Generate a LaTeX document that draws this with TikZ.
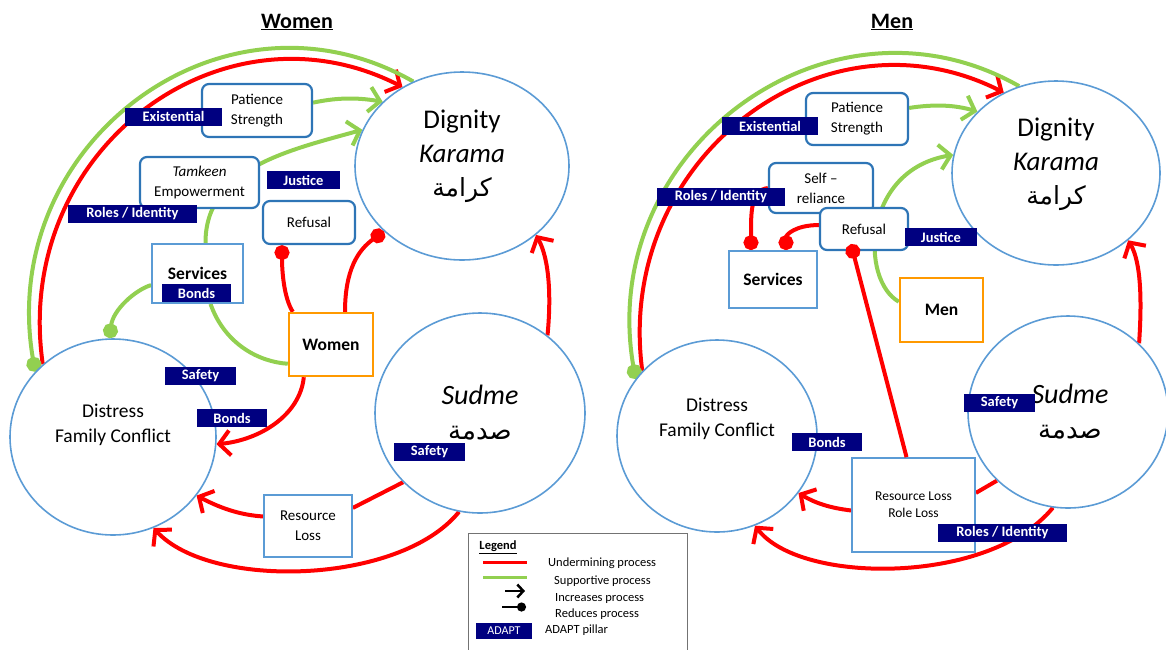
\documentclass[tikz,border=0pt]{standalone}
\usepackage{fontspec}
\setmainfont{Carlito}
\newfontfamily\arabicfont[Script=Arabic]{DejaVu Sans}
\TeXXeTstate=1
\usepackage{tikz}
\usetikzlibrary{shapes.geometric,arrows.meta,backgrounds}
\usepackage{xcolor}
\definecolor{undred}{RGB}{255,0,0}
\definecolor{supgreen}{RGB}{146,208,80}
\definecolor{ringblue}{RGB}{91,155,213}
\definecolor{boxblue}{RGB}{46,117,182}
\definecolor{adaptblue}{RGB}{0,0,128}
\definecolor{actorange}{RGB}{255,153,0}

\begin{document}
\begin{tikzpicture}[x=1pt, y=-1pt,
  bigring/.style={ellipse, draw=ringblue, line width=1.6pt, fill=white, inner sep=0pt},
  ringtext/.style={align=center, inner sep=0pt},
  roundbox/.style={rectangle, rounded corners=7pt, draw=boxblue, line width=2.2pt, fill=white,
    align=center, inner sep=0pt, font=\fontsize{15}{20}\selectfont},
  squarebox/.style={rectangle, draw=ringblue, line width=1.8pt, fill=white, align=center, inner sep=0pt},
  actorbox/.style={rectangle, draw=actorange, line width=2.4pt, fill=white, inner sep=0pt,
    font=\bfseries\fontsize{17.5}{20}\selectfont},
  pillar/.style={fill=adaptblue, text=white, inner sep=0pt, minimum height=18pt,
    font=\bfseries\fontsize{14.5}{16}\selectfont},
  legtext/.style={anchor=west, inner sep=0pt, font=\fontsize{12.5}{14}\selectfont},
  undermine/.style={draw=undred, line width=4pt},
  support/.style={draw=supgreen, line width=4pt},
  stopdot/.style={-{Circle[length=15pt]}},
  >={Straight Barb[length=11pt,width=25pt]}]
  \useasboundingbox (0,0) rectangle (1166,649);

  \node[font=\bfseries\fontsize{22}{26}\selectfont] (wtitle) at (297,22) {\underline{Women}};
  \node[font=\bfseries\fontsize{22}{26}\selectfont] (mtitle) at (892,22) {\underline{Men}};

  \node[bigring, minimum width=214pt, minimum height=188pt] (wdig) at (462,166) {};
  \node[bigring, minimum width=210pt, minimum height=200pt] (wsud) at (480,413) {};
  \node[bigring, minimum width=206pt, minimum height=196pt] (wdis) at (113,437) {};
  \node[ringtext, font=\fontsize{27}{34}\selectfont] (wdigt) at ([yshift=10pt]wdig.center)
    {Dignity\\\textit{Karama}\\{\arabicfont\fontsize{25}{30}\selectfont\beginR كرامة\endR}};
  \node[ringtext, font=\fontsize{28}{35}\selectfont] (wsudt) at (wsud.center)
    {\textit{Sudme}\\{\arabicfont\fontsize{26}{30}\selectfont\beginR صدمة\endR}};
  \node[ringtext, font=\fontsize{19.5}{25}\selectfont] (wdist) at ([yshift=12pt]wdis.center)
    {Distress\\Family Conflict};

  \node[roundbox, minimum width=110pt, minimum height=53pt] (wpat) at (257,110.5) {Patience\\Strength};
  \node[roundbox, minimum width=119pt, minimum height=51pt] (wtam) at (199.5,182.5) {\textit{Tamkeen}\\Empowerment};
  \node[roundbox, minimum width=92pt, minimum height=43pt] (wref) at (309,222.5) {Refusal};
  \node[squarebox, minimum width=91pt, minimum height=59pt,
    font=\bfseries\fontsize{17.5}{20}\selectfont] (wserv) at (197.5,273.5) {Services};
  \node[actorbox, minimum width=84pt, minimum height=63pt] (wwomen) at (331,344.5) {Women};
  \node[squarebox, minimum width=88pt, minimum height=62pt,
    font=\fontsize{15}{20}\selectfont] (wres) at (308,526) {Resource\\Loss};

  \node[pillar, minimum width=97pt] (wexist) at (173.5,116.5) {Existential};
  \node[pillar, minimum width=129pt] (wroles) at (132.5,214) {Roles / Identity};
  \node[pillar, minimum width=73pt] (wjust) at (303.5,180) {Justice};
  \node[pillar, minimum width=69pt] (wbondsv) at (196.5,293) {Bonds};
  \node[pillar, minimum width=71pt] (wsafed) at (200.5,376) {Safety};
  \node[pillar, minimum width=70pt] (wbondsd) at (232,418) {Bonds};
  \node[pillar, minimum width=71pt] (wsafes) at (429.5,452) {Safety};

  \node[bigring, minimum width=208pt, minimum height=184pt] (mdig) at (1056,173) {};
  \node[bigring, minimum width=200pt, minimum height=192pt] (msud) at (1068,412) {};
  \node[bigring, minimum width=200pt, minimum height=192pt] (mdis) at (717,436) {};
  \node[ringtext, font=\fontsize{27}{34}\selectfont] (mdigt) at ([yshift=9pt]mdig.center)
    {Dignity\\\textit{Karama}\\{\arabicfont\fontsize{25}{30}\selectfont\beginR كرامة\endR}};
  \node[ringtext, font=\fontsize{28}{35}\selectfont] (msudt) at ([xshift=2pt]msud.center)
    {\textit{Sudme}\\{\arabicfont\fontsize{26}{30}\selectfont\beginR صدمة\endR}};
  \node[ringtext, font=\fontsize{19.5}{25}\selectfont] (mdist) at ([yshift=17pt]mdis.center)
    {Distress\\Family Conflict};

  \node[roundbox, minimum width=102pt, minimum height=52pt] (mpat) at (857,119) {Patience\\Strength};
  \node[roundbox, minimum width=104pt, minimum height=50pt] (mself) at (821,188) {Self –\\reliance};
  \node[roundbox, minimum width=88pt, minimum height=42pt] (mref) at (864,229) {Refusal};
  \node[squarebox, minimum width=88pt, minimum height=57pt,
    font=\bfseries\fontsize{17.5}{20}\selectfont] (mserv) at (773,279.5) {Services};
  \node[actorbox, minimum width=83pt, minimum height=64pt] (mmen) at (941.5,310) {Men};
  \node[squarebox, minimum width=123pt, minimum height=94pt,
    font=\fontsize{13.5}{17}\selectfont] (mres) at (913.5,505) {Resource Loss\\Role Loss};

  \node[pillar, minimum width=96pt] (mexist) at (770,126) {Existential};
  \node[pillar, minimum width=128pt] (mroles) at (721,196.5) {Roles / Identity};
  \node[pillar, minimum width=72pt] (mjust) at (941,237) {Justice};
  \node[pillar, minimum width=70pt] (mbonds) at (827,442) {Bonds};
  \node[pillar, minimum width=71pt] (msafe) at (999.5,403) {Safety};
  \node[pillar, minimum width=129pt] (mrolesr) at (1002.5,532.5) {Roles / Identity};

  \begin{scope}[on background layer]
    \draw[undermine, ->] (wdis.134) .. controls (12,150) and (222,-5) .. (wdig.127);
    \draw[support, stopdot] (wdig.120) .. controls (224,-27) and (-4,143) .. (wdis.140);
    \draw[support, ->] (wpat.8) .. controls (335,98) and (355,97) .. (wdig.141);
    \draw[support, ->] ([xshift=8pt]wserv.north) .. controls (205,168) and (290,150) .. (wdig.160);
    \draw[support, stopdot] (wserv.194) .. controls (135,290) and (113,310) .. (wdis.92);
    \draw[support] ([xshift=13pt]wserv.south) .. controls (225,345) and (260,362) .. (wwomen.204);
    \draw[undermine, stopdot] ([xshift=5pt]wwomen.north west) .. controls (284,298) and (282,272) .. ([xshift=-27pt]wref.south);
    \draw[undermine, stopdot] ([xshift=14pt]wwomen.north) .. controls (345,270) and (358,250) .. (wdig.220);
    \draw[undermine, ->] ([xshift=16pt]wwomen.south west) .. controls (300,415) and (260,440) .. (wdis.-4);
    \draw[undermine] (wsud.222) -- (wres.22);
    \draw[undermine, ->] (wres.168) .. controls (240,515) and (220,508) .. (wdis.-35);
    \draw[undermine, ->] (wsud.258) .. controls (400,585) and (210,590) .. (wdis.-66);
    \draw[undermine, ->] (wsud.49) .. controls (551,300) and (550,260) .. (wdig.-43);

    \draw[undermine, ->] (mdis.139) .. controls (614,159) and (823,1) .. (mdig.123);
    \draw[support, stopdot] (mdig.113) .. controls (829,-22) and (596,150) .. (mdis.145);
    \draw[support, ->] (mpat.12) .. controls (935,104) and (955,105) .. (mdig.142);
    \draw[support, ->] (mmen.169) .. controls (860,280) and (862,170) .. (mdig.170);
    \draw[undermine, stopdot] (mself.west) .. controls (750,190) and (751,215) .. ([xshift=-22pt]mserv.north);
    \draw[undermine, stopdot] (mref.175) .. controls (795,225) and (786,235) .. ([xshift=13pt]mserv.north);
    \draw[undermine, ->] (mres.185) .. controls (830,508) and (815,503) .. (mdis.-35);
    \draw[undermine] (msud.224) -- (mres.11);
    \draw[undermine, ->] (msud.261) .. controls (990,585) and (800,585) .. (mdis.-67);
    \draw[undermine, ->] (msud.44) .. controls (1142,300) and (1141,262) .. (mdig.-43);
  \end{scope}
  \draw[undermine, stopdot] ([xshift=-7pt]mres.north) -- ([xshift=-13pt,yshift=7pt]mref.south);

  \node[draw=black!55, line width=1.2pt, minimum width=219pt, minimum height=130pt,
    anchor=north west, inner sep=0pt] (legend) at (468,533) {};
  \node[font=\bfseries\fontsize{12.5}{14}\selectfont] (legtitle) at (498,547) {\underline{Legend}};
  \draw[undermine, line width=3pt] (483,562) -- (527,562);
  \draw[support, line width=3pt] (483,577) -- (527,577);
  \draw[line width=2.5pt, -{Straight Barb[length=6pt,width=13pt]}] (505,591) -- (525,591);
  \draw[line width=2.5pt, -{Circle[length=9pt]}] (502,607) -- (526,607);
  \node[fill=adaptblue, text=white, minimum width=56pt, minimum height=16pt, inner sep=0pt,
    font=\fontsize{12}{14}\selectfont] (legadapt) at (504,631) {ADAPT};
  \node[legtext] (legund) at (548,563) {Undermining process};
  \node[legtext] (legsup) at (554,581) {Supportive process};
  \node[legtext] (leginc) at (555,598) {Increases process};
  \node[legtext] (legred) at (555,614) {Reduces process};
  \node[legtext] (legpil) at (545,630) {ADAPT pillar};
\end{tikzpicture}
\end{document}
